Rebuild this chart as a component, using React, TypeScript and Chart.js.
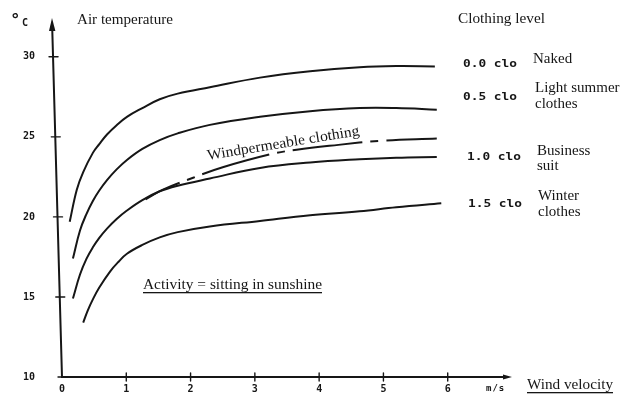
import React, { useEffect, useRef } from 'react';
import { Chart, registerables } from 'chart.js';

Chart.register(...registerables);

// Axis ticks
const xTickValues = [0, 1, 2, 3, 4, 5, 6];
const yTickValues = [10, 15, 20, 25, 30];
const xMax = 7;
const yMin = 10;
const yMax = 32.3;

// Wind velocity (m/s) and air temperature (°C) for each clothing level
const wind00 = [0.12, 0.23, 0.33, 0.48, 0.58, 0.7, 0.85, 1.01, 1.25, 1.52, 1.8, 2.3, 3.08, 3.86, 4.63, 5.2, 5.8];
const temp00 = [19.7, 21.7, 22.8, 24.0, 24.55, 25.15, 25.73, 26.25, 26.8, 27.35, 27.7, 28.1, 28.7, 29.1, 29.35, 29.42, 29.4];

const wind05 = [0.17, 0.28, 0.38, 0.48, 0.58, 0.7, 0.85, 1.01, 1.25, 1.52, 1.8, 2.3, 3.08, 3.86, 4.63, 5.2, 5.83];
const temp05 = [17.4, 19.15, 20.18, 21.0, 21.65, 22.3, 22.97, 23.56, 24.25, 24.8, 25.22, 25.75, 26.25, 26.6, 26.8, 26.8, 26.7];

const wind10 = [0.17, 0.28, 0.38, 0.48, 0.58, 0.7, 0.85, 1.01, 1.25, 1.52, 1.8, 2.3, 3.08, 3.86, 4.63, 5.2, 5.83];
const temp10 = [14.9, 16.4, 17.38, 18.1, 18.69, 19.27, 19.87, 20.4, 21.05, 21.6, 21.95, 22.4, 23.06, 23.4, 23.6, 23.7, 23.75];

const windPerm = [1.3, 1.57, 2.04, 2.5, 3.23, 3.65, 4.3, 4.95, 5.83];
const tempPerm = [21.1, 21.7, 22.45, 23.1, 23.9, 24.2, 24.5, 24.75, 24.9];

const wind15 = [0.33, 0.4, 0.48, 0.58, 0.75, 0.88, 1.01, 1.25, 1.52, 1.8, 2.3, 3.08, 3.86, 4.63, 5.2, 5.9];
const temp15 = [13.4, 14.15, 14.85, 15.59, 16.6, 17.2, 17.7, 18.25, 18.72, 19.05, 19.4, 19.75, 20.1, 20.35, 20.6, 20.85];

const cloLabels = ['0.0 clo', '0.5 clo', '1.0 clo', '1.5 clo'];
const cloNames = [['Naked'], ['Light summer', 'clothes'], ['Business', 'suit'], ['Winter', 'clothes']];

const pts = (xs: number[], ys: number[]) => xs.map((x, i) => ({ x, y: ys[i] }));

const INK = '#161616';
const SERIF = '"Liberation Serif", "DejaVu Serif", serif';
const MONO = '"DejaVu Sans Mono", monospace';

function txt(ctx: CanvasRenderingContext2D, s: string, x: number, y: number, font: string, opts: any = {}) {
  ctx.save();
  ctx.font = font;
  ctx.fillStyle = opts.color || INK;
  ctx.textBaseline = 'alphabetic';
  ctx.textAlign = 'left';
  if (opts.ls) (ctx as any).letterSpacing = opts.ls;
  const w = ctx.measureText(s).width;
  ctx.translate(x, y);
  if (opts.rot) ctx.rotate(opts.rot);
  if (opts.w) ctx.scale(opts.w / w, 1);
  ctx.fillText(s, 0, 0);
  if (opts.ul) ctx.fillRect(0, 3, w, 1.3);
  ctx.restore();
}

const decor = {
  id: 'decor',
  afterDraw(chart: any) {
    const ctx: CanvasRenderingContext2D = chart.ctx;
    const xs = chart.scales.x;
    const ys = chart.scales.y;
    const x0 = xs.getPixelForValue(0);
    const y0 = ys.getPixelForValue(yMin);
    const xEnd = xs.getPixelForValue(xMax);
    const yTop = ys.getPixelForValue(yMax);
    const tilt = 10;
    const axisX = (py: number) => x0 - (tilt * (y0 - py)) / (y0 - yTop);

    ctx.save();
    ctx.strokeStyle = INK;
    ctx.fillStyle = INK;
    ctx.lineWidth = 2;
    ctx.lineCap = 'round';
    // axes
    ctx.beginPath();
    ctx.moveTo(axisX(yTop + 8), yTop + 8);
    ctx.lineTo(x0, y0);
    ctx.lineTo(xEnd - 6, y0);
    ctx.stroke();
    // y arrow
    const ax = axisX(yTop);
    ctx.beginPath();
    ctx.moveTo(ax, yTop - 2);
    ctx.lineTo(ax - 3, yTop + 11);
    ctx.lineTo(ax + 3.4, yTop + 11);
    ctx.closePath();
    ctx.fill();
    // x arrow
    ctx.beginPath();
    ctx.moveTo(xEnd, y0);
    ctx.lineTo(xEnd - 9, y0 - 2.5);
    ctx.lineTo(xEnd - 9, y0 + 2.5);
    ctx.closePath();
    ctx.fill();
    // tick crosses
    ctx.lineWidth = 1.4;
    yTickValues.forEach((v) => {
      const py = ys.getPixelForValue(v);
      const px = axisX(py);
      ctx.beginPath();
      ctx.moveTo(px - 4, py);
      ctx.lineTo(px + 5, py);
      ctx.stroke();
    });
    xTickValues.forEach((v) => {
      if (v === 0) return;
      const px = xs.getPixelForValue(v);
      ctx.beginPath();
      ctx.moveTo(px, y0 - 4);
      ctx.lineTo(px, y0 + 4);
      ctx.stroke();
    });
    ctx.restore();

    // texts
    txt(ctx, '°', 11, 26, 'bold 17px "DejaVu Sans", sans-serif');
    txt(ctx, 'C', 22, 26, `bold 10px ${MONO}`);
    txt(ctx, 'Air temperature', 77, 24, `15px ${SERIF}`, { w: 96 });
    txt(ctx, 'Clothing level', 458, 23, `15px ${SERIF}`, { w: 87 });

    const cloX = [463, 463, 467, 468];
    const cloY = [67, 100, 160, 207];
    cloLabels.forEach((s, i) => txt(ctx, s, cloX[i], cloY[i], `bold 10px ${MONO}`, { w: 54 }));

    const nameX = [533, 535, 537, 538];
    const nameY = [[63], [92, 108], [155, 170], [200, 216]];
    cloNames.forEach((lines, i) =>
      lines.forEach((s, j) => txt(ctx, s, nameX[i], nameY[i][j], `15px ${SERIF}`))
    );

    txt(ctx, 'Windpermeable clothing', 208, 160, `15px ${SERIF}`, { w: 154, rot: (-9.3 * Math.PI) / 180 });
    txt(ctx, 'Activity = sitting in sunshine', 143, 289, `15px ${SERIF}`, { w: 179, ul: true });
    txt(ctx, 'Wind velocity', 527, 389, `15px ${SERIF}`, { w: 86, ul: true });
    txt(ctx, 'm/s', 486, 391, `bold 9px ${MONO}`, { ls: '1px' });
  },
};

const zeroPad = (s: any) => {
  s.paddingTop = 0;
  s.paddingBottom = 0;
  s.paddingLeft = 0;
  s.paddingRight = 0;
};

export default function App() {
  const ref = useRef<HTMLCanvasElement>(null);
  useEffect(() => {
    if (!ref.current) return;
    const line = (xs: number[], ys: number[], dash?: number[], dashOffset?: number) => ({
      data: pts(xs, ys),
      borderColor: INK,
      borderWidth: 2,
      borderDash: dash || [],
      borderDashOffset: dashOffset || 0,
      pointRadius: 0,
      fill: false,
      tension: 0.4,
    });
    const chart = new Chart(ref.current, {
      type: 'line',
      data: {
        datasets: [
          line(wind00, temp00),
          line(wind05, temp05),
          line(windPerm, tempPerm, [70, 8, 8, 8], 32),
          line(wind10, temp10),
          line(wind15, temp15),
        ],
      },
      options: {
        animation: false,
        responsive: true,
        maintainAspectRatio: false,
        layout: { padding: { left: 0, right: 114, top: 20, bottom: 0 } },
        plugins: { legend: { display: false }, tooltip: { enabled: false } },
        scales: {
          x: {
            type: 'linear',
            min: 0,
            max: xMax,
            grid: { display: false, drawTicks: false },
            border: { display: false },
            afterBuildTicks: (s: any) => {
              s.ticks = xTickValues.map((v) => ({ value: v }));
            },
            afterFit: (s: any) => {
              s.height = 20;
              zeroPad(s);
            },
            ticks: {
              color: INK,
              padding: 6,
              maxRotation: 0,
              font: { family: MONO, size: 10, weight: 'bold' },
            },
          },
          y: {
            type: 'linear',
            min: yMin,
            max: yMax,
            grid: { display: false, drawTicks: false },
            border: { display: false },
            afterBuildTicks: (s: any) => {
              s.ticks = yTickValues.map((v) => ({ value: v }));
            },
            afterFit: (s: any) => {
              s.width = 62;
              zeroPad(s);
            },
            ticks: {
              color: INK,
              padding: 27,
              font: { family: MONO, size: 10, weight: 'bold' },
            },
          },
        },
      },
      plugins: [decor],
    });
    return () => chart.destroy();
  }, []);

  return (
    <div style={{ position: 'fixed', left: 0, top: 0, width: 626, height: 397, background: '#fff' }}>
      <canvas ref={ref} />
    </div>
  );
}
